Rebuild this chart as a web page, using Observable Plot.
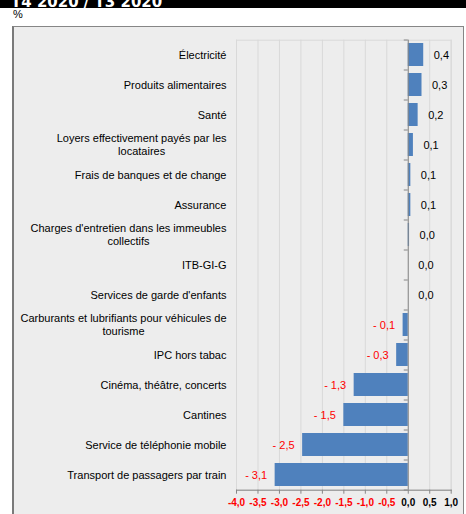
<!DOCTYPE html>
<html><head><meta charset="utf-8">
<script src="https://cdn.jsdelivr.net/npm/d3@7"></script>
<script src="https://cdn.jsdelivr.net/npm/@observablehq/plot@0.6"></script>
<style>
body{margin:0;background:#fff;width:466px;height:514px;position:relative;overflow:hidden;font-family:"Liberation Sans",Arial,sans-serif}
#band{position:absolute;left:0;top:0;width:466px;height:8px;background:#000;overflow:hidden}
#band span{position:absolute;left:11px;top:-2px;font:bold 15px/8px "DejaVu Sans";color:#fff;white-space:nowrap}
#unit{position:absolute;left:13px;top:8px;font-size:11px;line-height:12px;color:#000}
#frame{position:absolute;left:12px;top:26px;width:449px;height:500px;border:1px solid #868686;border-left:2px solid #7a7a7a;background:#ededed}
#chart{position:absolute;left:0;top:27px}
.xlab text{font-weight:bold}
</style></head><body>
<div id="band"><span>T4 2020 / T3 2020</span></div>
<div id="unit">%</div>
<div id="frame"></div>
<div id="chart"></div>
<script>
const categories = [
  "Électricité",
  "Produits alimentaires",
  "Santé",
  "Loyers effectivement payés par les\nlocataires",
  "Frais de banques et de change",
  "Assurance",
  "Charges d'entretien dans les immeubles\ncollectifs",
  "ITB-GI-G",
  "Services de garde d'enfants",
  "Carburants et lubrifiants pour véhicules de\ntourisme",
  "IPC hors tabac",
  "Cinéma, théâtre, concerts",
  "Cantines",
  "Service de téléphonie mobile",
  "Transport de passagers par train"
];
const values = [0.36, 0.32, 0.23, 0.12, 0.06, 0.06, 0.03, 0, 0, -0.12, -0.27, -1.26, -1.5, -2.46, -3.1];
const xTicks = [-4, -3.5, -3, -2.5, -2, -1.5, -1, -0.5, 0, 0.5, 1];

const W = 466, H = 487, mT = 12.7, mB = 24.3, mL = 236, mR = 15.3;
const padIn = 0.243, padOut = padIn / 2;
const step = (H - mT - mB) / (categories.length - padIn + 2 * padOut);
const lineGap = 13.3;

const data = categories.map((c, i) => ({cat: c, value: values[i]}));
const fmt = v => (v < 0 ? "- " : "") + Math.abs(v).toFixed(1).replace(".", ",");
const tickFmt = v => v.toFixed(1).replace(".", ",");
const single = categories.filter(c => !c.includes("\n"));
const multi = categories.filter(c => c.includes("\n"));
const ctx = document.createElement("canvas").getContext("2d");
ctx.font = "11px 'Liberation Sans'";

const axisStyle = {tickSize: 4, tickPadding: 5, stroke: "#868686", fontWeight: "bold", fontSize: 10, tickFormat: tickFmt, label: null, className: "xlab"};

const chart = Plot.plot({
  width: W, height: H,
  marginTop: mT, marginBottom: mB, marginLeft: mL, marginRight: mR,
  style: {fontFamily: "'Liberation Sans', Arial, sans-serif", fontSize: "11px", background: "transparent", color: "#000"},
  x: {domain: [-4, 1], axis: null, label: null},
  y: {domain: categories, paddingInner: padIn, paddingOuter: padOut, axis: null},
  marks: [
    Plot.ruleX(xTicks, {stroke: "#d9d9d9"}),
    Plot.frame({stroke: "#d9d9d9"}),
    Plot.barX(data, {x: "value", y: "cat", fill: "#4f81bd"}),
    Plot.ruleX([0], {stroke: "#868686"}),
    Plot.ruleY(categories, {y: d => d, x1: 0, x2: 0, insetLeft: -4, dy: -step / 2, stroke: "#868686"}),
    Plot.ruleY(categories.slice(-1), {y: d => d, x1: 0, x2: 0, insetLeft: -4, dy: step / 2, stroke: "#868686"}),
    Plot.frame({anchor: "bottom", stroke: "#868686"}),
    Plot.axisX(xTicks.filter(v => v < 0), {...axisStyle, fill: "#ff0000"}),
    Plot.axisX(xTicks.filter(v => v >= 0), {...axisStyle, fill: "#000"}),
    Plot.text(data.filter(d => d.value >= 0), {x: "value", y: "cat", text: d => fmt(d.value), dx: 10, textAnchor: "start", fill: "#000"}),
    Plot.text(data.filter(d => d.value < 0), {x: "value", y: "cat", text: d => fmt(d.value), dx: -8, textAnchor: "end", fill: "#ff0000"}),
    Plot.text(single, {y: d => d, text: d => d, frameAnchor: "left", dx: -10, textAnchor: "end", fill: "#000"}),
    Plot.text(multi, {y: d => d, text: d => d.split("\n")[0], frameAnchor: "left", dx: -10, dy: -lineGap / 2, textAnchor: "end", fill: "#000"}),
    ...multi.map(c => Plot.text([c], {
      y: d => d, text: d => d.split("\n")[1], frameAnchor: "left",
      dx: -10 - ctx.measureText(c.split("\n")[0]).width / 2, dy: lineGap / 2,
      textAnchor: "middle", fill: "#000"
    }))
  ]
});
document.getElementById("chart").appendChild(chart);
</script>
</body></html>
